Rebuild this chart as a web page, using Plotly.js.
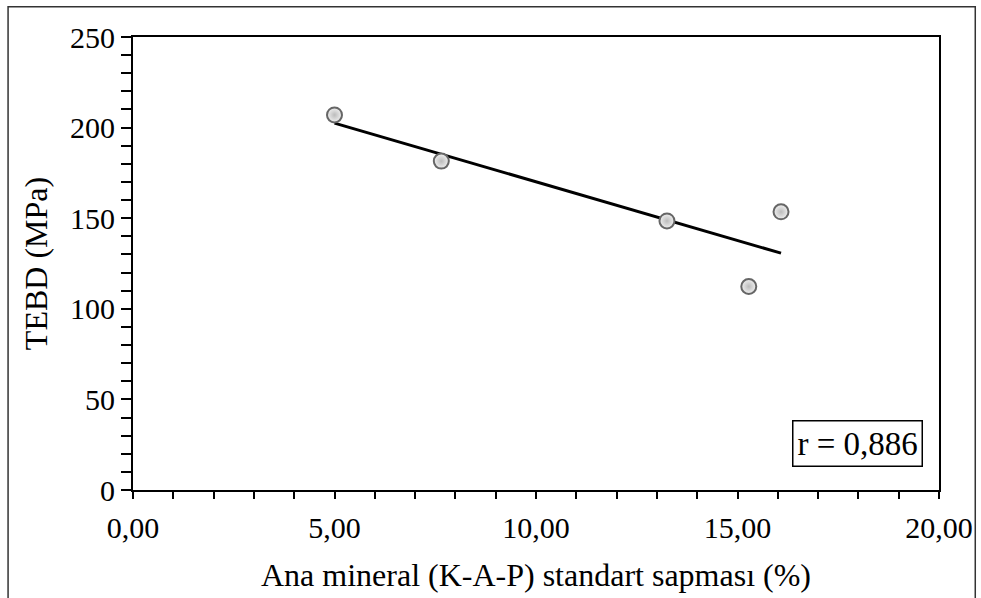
<!DOCTYPE html>
<html>
<head>
<meta charset="utf-8">
<script src="https://cdn.plot.ly/plotly-3.0.1.min.js"></script>
<style>
html,body{margin:0;padding:0;background:#fff;}
#chart{width:981px;height:598px;}
</style>
</head>
<body>
<div id="chart"></div>
<script>
// Data
const xValues = [5.00, 7.65, 13.25, 15.28, 16.08];
const yValues = [207.0, 181.5, 148.5, 112.3, 153.5];
const trendX = [5.00, 16.08];
const trendY = [202.5, 130.7];
const rLabel = 'r = 0,886';
const xTickVals = [0, 5, 10, 15, 20];
const xTickText = ['0,00', '5,00', '10,00', '15,00', '20,00'];
const yTickVals = [0, 50, 100, 150, 200, 250];
const yTickText = ['0', '50', '100', '150', '200', '250'];
const xTitle = 'Ana mineral (K-A-P) standart sapması (%)';
const yTitle = 'TEBD (MPa)';

const font = 'Liberation Serif, Times New Roman, serif';

const traces = [
  {
    x: trendX, y: trendY, type: 'scatter', mode: 'lines',
    line: {color: '#000', width: 3}, hoverinfo: 'skip', showlegend: false
  },
  {
    x: xValues, y: yValues, type: 'scatter', mode: 'markers',
    marker: {
      symbol: 'circle', size: 15, color: '#f0f0f0',
      gradient: {type: 'radial', color: '#bcbcbc'},
      line: {color: '#666', width: 2}
    },
    showlegend: false
  }
];

const layout = {
  width: 981, height: 598,
  paper_bgcolor: '#fff', plot_bgcolor: '#fff',
  margin: {l: 133, r: 42, t: 37, b: 108},
  font: {family: font, size: 30, color: '#000'},
  xaxis: {
    range: [0, 20], tickvals: xTickVals, ticktext: xTickText,
    showgrid: false, zeroline: false, automargin: false,
    showline: true, linecolor: '#000', linewidth: 2, mirror: true,
    ticks: 'outside', ticklen: 7, tickwidth: 2, tickcolor: '#000',
    minor: {dtick: 1, ticks: 'outside', ticklen: 7, tickwidth: 2, tickcolor: '#000', showgrid: false},
    tickfont: {family: font, size: 30},
    ticklabelstandoff: 3,
    title: {text: xTitle, font: {family: font, size: 32}, standoff: 21}
  },
  yaxis: {
    range: [0, 250], tickvals: yTickVals, ticktext: yTickText,
    showgrid: false, zeroline: false, automargin: false,
    showline: true, linecolor: '#000', linewidth: 2, mirror: true,
    ticks: 'outside', ticklen: 10, tickwidth: 2, tickcolor: '#000',
    minor: {dtick: 10, ticks: 'outside', ticklen: 10, tickwidth: 2, tickcolor: '#000', showgrid: false},
    tickfont: {family: font, size: 30},
    title: {text: yTitle, font: {family: font, size: 32}, standoff: 13}
  },
  annotations: [{
    xref: 'paper', yref: 'paper', x: 0.98, y: 0.05,
    xanchor: 'right', yanchor: 'bottom',
    text: rLabel, showarrow: false,
    font: {family: font, size: 33, color: '#000'},
    bordercolor: '#000', borderwidth: 1.5, borderpad: 4, bgcolor: '#fff'
  }],
  shapes: [{
    type: 'rect', xref: 'paper', yref: 'paper',
    x0: -0.155, x1: 1.045, y0: -0.3, y1: 1.067,
    line: {color: '#333', width: 1.5}
  }]
};

Plotly.newPlot('chart', traces, layout, {displayModeBar: false, staticPlot: true});
</script>
</body>
</html>
